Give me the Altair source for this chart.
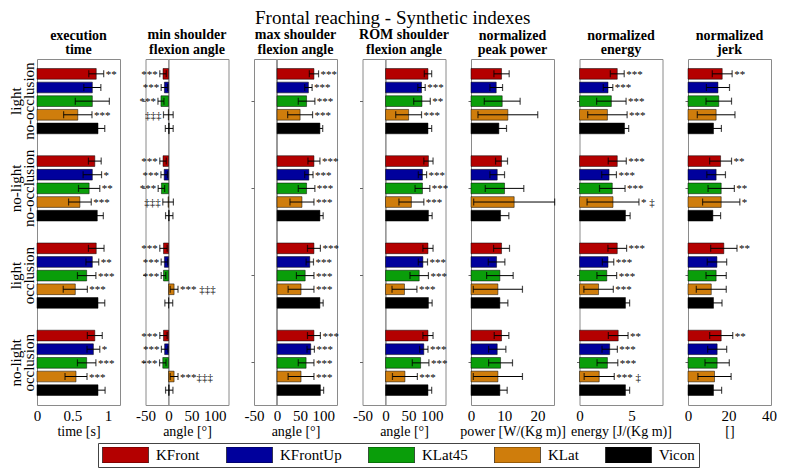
import altair as alt
import pandas as pd

SERIF = "Liberation Serif"

SYSTEMS = ["KFront", "KFrontUp", "KLat45", "KLat", "Vicon"]
COLORS = ["#b40000", "#00009c", "#0a9e0a", "#cf7d0c", "#000000"]
CONDITIONS = ["light no-occlusion", "no-light no-occlusion", "light occlusion", "no-light occlusion"]
COND_LINE1 = ["light", "no-light", "light", "no-light"]
COND_LINE2 = ["no-occlusion", "no-occlusion", "occlusion", "occlusion"]

# execution time [s]  (rows = conditions, cols = systems)
TIME_MEAN = [[0.835, 0.78, 0.78, 0.575, 0.86],
             [0.815, 0.78, 0.735, 0.605, 0.85],
             [0.835, 0.78, 0.70, 0.54, 0.86],
             [0.815, 0.795, 0.70, 0.55, 0.86]]
TIME_SD = [[0.105, 0.12, 0.24, 0.2, 0.095],
           [0.09, 0.13, 0.15, 0.16, 0.085],
           [0.11, 0.09, 0.13, 0.17, 0.095],
           [0.105, 0.09, 0.13, 0.155, 0.1]]
TIME_SIG = [["**", "", "", "***", ""],
            ["", "*", "**", "***", ""],
            ["", "**", "***", "***", ""],
            ["", "*", "***", "***", ""]]

# min shoulder flexion angle [deg]
MIN_MEAN = [[-12, -9, -16.5, -0.5, 1.5],
            [-12, -9.5, -15.5, -1, 1.5],
            [-11, -9, -11, 12, 0.5],
            [-11, -8.5, -12.5, 12, 1.5]]
MIN_SD = [[7, 7, 6.5, 10.5, 8.5],
          [7, 7, 7, 11.5, 8],
          [8, 7, 5, 8.5, 8.5],
          [8, 7, 7, 8.5, 8]]
MIN_SIG = [["***", "***", "***", "‡‡‡", ""],
           ["***", "***", "***", "‡‡‡", ""],
           ["***", "***", "***", "*** ‡‡‡", ""],
           ["***", "***", "***", "***‡‡‡", ""]]

# max shoulder flexion angle [deg]
MAX_MEAN = [[80, 68, 64, 50, 93],
            [80, 69, 64, 54, 93],
            [80, 71, 61, 52, 93],
            [80, 73, 63, 52, 94]]
MAX_SD = [[10, 8, 18, 27, 6],
          [13, 9, 18, 26, 7],
          [14, 8, 19, 28, 7],
          [14, 8, 17, 28, 7]]
MAX_SIG = [["***", "***", "***", "***", ""],
           ["***", "***", "***", "***", ""],
           ["***", "***", "***", "***", ""],
           ["***", "***", "***", "***", ""]]

# ROM shoulder flexion angle [deg]
ROM_MEAN = [[92, 78, 79, 50, 92],
            [93, 80, 80, 56, 93],
            [92, 81, 73, 41, 93],
            [92, 83, 76, 42, 92]]
ROM_SD = [[8, 8, 18, 28, 8],
          [10, 9, 16, 27, 8],
          [11, 10, 20, 27, 8],
          [11, 9, 18, 27, 8]]
ROM_SIG = [["", "***", "**", "***", ""],
           ["", "***", "***", "***", ""],
           ["", "***", "***", "***", ""],
           ["", "***", "***", "***", ""]]

# normalized peak power [W/(Kg m)]
POW_MEAN = [[9.2, 7.6, 9.4, 11.1, 8.4],
            [9.2, 7.9, 10.1, 13.0, 8.9],
            [9.2, 7.7, 8.7, 8.1, 8.7],
            [9.2, 7.9, 8.9, 8.1, 8.7]]
POW_SD = [[2.3, 1.9, 5.4, 9.0, 2.3],
          [1.8, 2.2, 5.8, 12.2, 2.5],
          [2.4, 2.5, 4.0, 7.4, 2.4],
          [2.2, 2.6, 3.6, 7.4, 2.2]]
POW_SIG = [["", "", "", "", ""]] * 4

# normalized energy [J/(Kg m)]
EN_MEAN = [[3.64, 2.75, 3.07, 2.69, 4.34],
           [3.64, 2.85, 3.16, 3.23, 4.43],
           [3.64, 2.75, 2.63, 1.84, 4.43],
           [3.73, 2.91, 2.69, 1.9, 4.43]]
EN_SD = [[0.67, 0.46, 1.42, 1.9, 0.4],
         [0.87, 0.71, 1.23, 2.5, 0.45],
         [0.9, 0.55, 0.95, 1.42, 0.4],
         [0.95, 0.74, 1.0, 1.45, 0.4]]
EN_SIG = [["***", "***", "***", "***", ""],
          ["***", "***", "***", "* ‡", ""],
          ["***", "***", "***", "***", ""],
          ["**", "***", "***", "*** ‡", ""]]

# normalized jerk []
JERK_MEAN = [[16.9, 14.8, 15.2, 13.9, 12.6],
             [16.1, 13.9, 16.4, 16.4, 12.3],
             [17.7, 14.3, 13.9, 11.5, 12.6],
             [16.4, 14.4, 14.4, 13.1, 12.6]]
JERK_SD = [[4.9, 5.7, 6.3, 9.3, 3.9],
           [5.4, 4.6, 6.5, 9.2, 3.8],
           [6.5, 4.8, 5.0, 7.4, 4.2],
           [5.7, 4.7, 6.0, 8.2, 4.0]]
JERK_SIG = [["**", "", "", "", ""],
            ["**", "", "**", "*", ""],
            ["**", "", "", "", ""],
            ["**", "", "", "", ""]]

PANEL_W = 83
PANEL_H = 346


def make_df(mean, sd, sig):
    rows = []
    for ci, cond in enumerate(CONDITIONS):
        for si, name in enumerate(SYSTEMS):
            m, s = mean[ci][si], sd[ci][si]
            rows.append(dict(cond=cond, sys=name, mean=m, lo=m - s, hi=m + s,
                             sig=sig[ci][si], side="left" if m < 0 else "right"))
    return pd.DataFrame(rows)


def panel(title, xtitle, mean, sd, sig, domain, ticks, first=False, zero_line=False):
    df = make_df(mean, sd, sig)
    base = alt.Chart(df)

    yaxis = alt.Axis(title=None, labels=False, ticks=not first, tickSize=3, domain=False)
    y = alt.Y("cond:N", sort=CONDITIONS, axis=yaxis,
              scale=alt.Scale(paddingInner=0.218, paddingOuter=0.092))
    yo = alt.YOffset("sys:N", sort=SYSTEMS,
                     scale=alt.Scale(paddingInner=0.214, paddingOuter=0.107))

    xs = alt.Scale(domain=domain, nice=False, zero=False)
    xaxis = alt.Axis(values=ticks, labelExpr="'' + datum.value", title=xtitle, ticks=False,
                     domain=False, grid=False, labelFontSize=15, titleFontSize=14,
                     labelPadding=3, titlePadding=1, labelFlush=False, labelOverlap=False)

    def X(field):
        return alt.X(field, scale=xs, axis=xaxis)

    cscale = alt.Scale(domain=SYSTEMS, range=COLORS)
    if first:
        color = alt.Color("sys:N", sort=SYSTEMS, scale=cscale,
                          legend=alt.Legend(orient="none", legendX=61, legendY=PANEL_H + 38,
                                            direction="horizontal", columns=5, title=None,
                                            symbolType="M-1,-0.35H1V0.35H-1Z", symbolSize=2116,
                                            symbolStrokeColor="black", symbolStrokeWidth=0.6,
                                            clipHeight=16, labelFontSize=15, labelFont=SERIF,
                                            labelColor="black", labelOffset=7, columnPadding=26,
                                            padding=4, strokeColor="#444", fillColor="white"))
    else:
        color = alt.Color("sys:N", sort=SYSTEMS, scale=cscale, legend=None)

    layers = []
    if zero_line:
        layers.append(base.mark_rule(color="#9a9a9a", strokeWidth=1).encode(
            x=alt.X(datum=0, scale=xs, axis=xaxis)))
    layers.append(base.mark_bar(stroke="black", strokeWidth=0.5).encode(
        x=X("mean:Q"), x2=alt.datum(0), y=y, yOffset=yo, color=color))
    layers.append(base.mark_rule(color="black", strokeWidth=1).encode(
        x=X("lo:Q"), x2="hi:Q", y=y, yOffset=yo))
    layers.append(base.mark_tick(color="black", thickness=1.2, size=7).encode(
        x=X("lo:Q"), y=y, yOffset=yo))
    layers.append(base.mark_tick(color="black", thickness=1.2, size=7).encode(
        x=X("hi:Q"), y=y, yOffset=yo))
    layers.append(base.transform_filter("datum.side == 'right'").mark_text(
        align="left", baseline="middle", dx=2, dy=1, fontSize=11, font=SERIF,
        color="black").encode(x=X("hi:Q"), y=y, yOffset=yo, text="sig:N"))
    layers.append(base.transform_filter("datum.side == 'left'").mark_text(
        align="right", baseline="middle", dx=-2, dy=1, fontSize=11, font=SERIF,
        color="black").encode(x=X("lo:Q"), y=y, yOffset=yo, text="sig:N"))

    if first:
        # condition names, written upwards on two lines left of the first panel
        lab = pd.DataFrame({"cond": CONDITIONS, "line1": COND_LINE1, "line2": COND_LINE2})
        for field, xpos in (("line1", -16), ("line2", -3)):
            layers.append(alt.Chart(lab).mark_text(
                angle=270, align="center", baseline="alphabetic", fontSize=15,
                font=SERIF, color="black").encode(
                x=alt.value(xpos), y=y, text=f"{field}:N"))

    return alt.layer(*layers).properties(
        width=PANEL_W, height=PANEL_H,
        title=alt.TitleParams(title, font=SERIF, fontSize=14, fontWeight="bold",
                              lineHeight=14.5, offset=2, anchor="middle"))


ANGLE_DOM = [-50, 130]
ANGLE_TICKS = [-50, 0, 50, 100]

panels = [
    panel(["execution", "time"], "time [s]", TIME_MEAN, TIME_SD, TIME_SIG,
          [0, 1.17], [0, 0.5, 1], first=True),
    panel(["min shoulder", "flexion angle"], "angle  [°]", MIN_MEAN, MIN_SD, MIN_SIG,
          ANGLE_DOM, ANGLE_TICKS, zero_line=True),
    panel(["max shoulder", "flexion angle"], "angle  [°]", MAX_MEAN, MAX_SD, MAX_SIG,
          ANGLE_DOM, ANGLE_TICKS, zero_line=True),
    panel(["ROM shoulder", "flexion angle"], "angle  [°]", ROM_MEAN, ROM_SD, ROM_SIG,
          ANGLE_DOM, ANGLE_TICKS, zero_line=True),
    panel(["normalized", "peak power"], "power [W/(Kg m)]", POW_MEAN, POW_SD, POW_SIG,
          [0, 25], [0, 10, 20]),
    panel(["normalized", "energy"], "energy [J/(Kg m)]", EN_MEAN, EN_SD, EN_SIG,
          [0, 8], [0, 5]),
    panel(["normalized", "jerk"], "[]", JERK_MEAN, JERK_SD, JERK_SIG,
          [0, 41], [0, 20, 40]),
]

chart = alt.hconcat(*panels, spacing=25.5, bounds="flush").properties(
    title=alt.TitleParams("Frontal reaching - Synthetic indexes", font=SERIF, fontSize=19,
                          fontWeight="normal", anchor="middle", offset=0),
    padding={"left": 0, "right": 0, "top": 0, "bottom": 0},
).configure_view(
    stroke="#8a8a8a", strokeWidth=1
).configure_axis(
    labelFont=SERIF, titleFont=SERIF, labelColor="black", titleColor="black",
    titleFontWeight="normal", tickColor="#666"
).configure_title(
    font=SERIF, color="black"
).configure_text(
    font=SERIF
)

chart.save("out.html", embed_options={"renderer": "svg", "actions": False})
